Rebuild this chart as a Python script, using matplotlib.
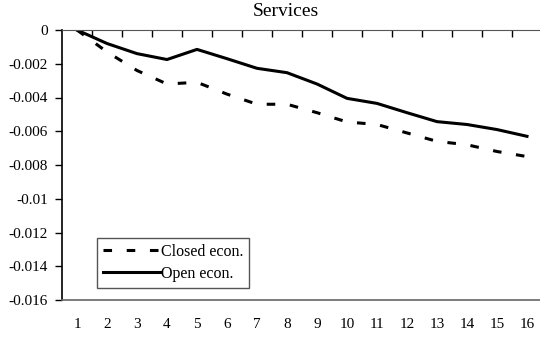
import matplotlib
matplotlib.use('Agg')
import matplotlib.pyplot as plt
import numpy as np

plt.rcParams['font.family'] = ['Liberation Serif', 'DejaVu Serif']
plt.rcParams['axes.unicode_minus'] = False

# values
periods = list(range(1, 17))
closed_econ = [0, -0.0013, -0.0024, -0.0032, -0.0031, -0.0038, -0.0044, -0.0044,
               -0.0049, -0.00545, -0.0056, -0.0061, -0.0066, -0.0068, -0.0072, -0.0075]
open_econ = [0, -0.0008, -0.0014, -0.00175, -0.00115, -0.0017, -0.00227, -0.00253,
             -0.0032, -0.00405, -0.00435, -0.0049, -0.00543, -0.0056, -0.0059, -0.0063]
yticks = [0, -0.002, -0.004, -0.006, -0.008, -0.01, -0.012, -0.014, -0.016]
ytick_labels = ['0', '-0.002', '-0.004', '-0.006', '-0.008', '-0.01', '-0.012', '-0.014', '-0.016']

W, H = 540, 338
fig = plt.figure(figsize=(W / 100, H / 100), dpi=100)
ax = fig.add_axes([62 / W, (H - 300) / H, 480 / W, 270 / H])

ax.plot(periods, closed_econ, color='black', lw=2.2, linestyle=(0, (2.8, 4.8)),
        label='Closed econ.')
ax.plot(periods, open_econ, color='black', lw=2.2, label='Open econ.')

ax.set_xlim(0.5, 16.5)
ax.set_ylim(-0.016, 0)
ax.set_yticks(yticks)
ax.set_yticklabels(ytick_labels)
ax.tick_params(axis='y', direction='out', length=5, width=1, labelsize=11, pad=5)

# category labels low, tick marks on the zero line between categories
ax.set_xticks(periods)
ax.set_xticklabels([str(p) for p in periods])
ax.set_xticks(np.arange(1.5, 16, 1), minor=True)
ax.tick_params(axis='x', which='major', length=0, labelsize=11, pad=13)
ax.tick_params(axis='x', which='minor', top=True, bottom=False, direction='in',
               length=5, width=1)

ax.spines['right'].set_visible(False)
ax.spines['left'].set_linewidth(1.2)
ax.spines['top'].set_color('#555555')
ax.spines['bottom'].set_color('#666666')
ax.spines['bottom'].set_linewidth(1.2)

fig.text(286 / W, 1 - 12 / H, 'Services', ha='center', va='center', fontsize=14)

leg = ax.legend(loc='upper left', bbox_to_anchor=(97 / W, 1 - 238 / H),
                bbox_transform=fig.transFigure, fontsize=11.5, handlelength=3.6,
                handletextpad=0.05, borderpad=0.35, labelspacing=0.4,
                fancybox=False, framealpha=1, edgecolor='#555555', borderaxespad=0)
leg.get_frame().set_linewidth(1)

fig.savefig('out.png', dpi=100)
